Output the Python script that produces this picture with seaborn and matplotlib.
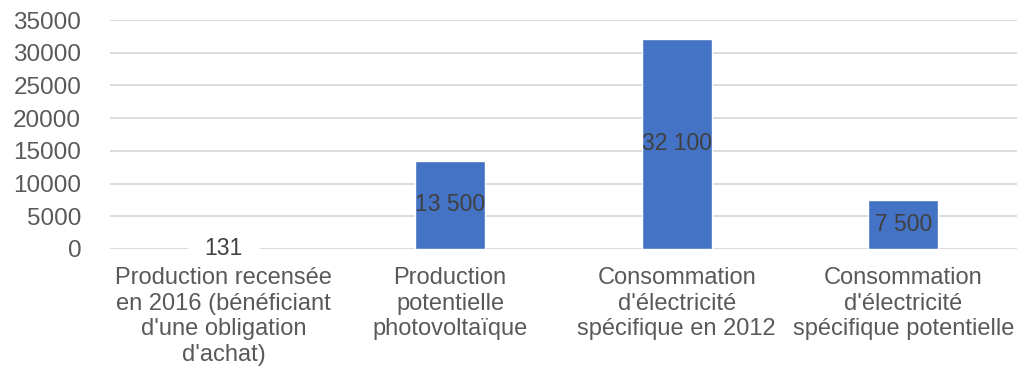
import matplotlib
matplotlib.use("Agg")
import matplotlib.pyplot as plt
import seaborn as sns
import pandas as pd

categories = [
    "Production recensée\nen 2016 (bénéficiant\nd'une obligation\nd'achat)",
    "Production\npotentielle\nphotovoltaïque",
    "Consommation\nd'électricité\nspécifique en 2012",
    "Consommation\nd'électricité\nspécifique potentielle",
]
values = [131, 13500, 32100, 7500]
y_ticks = [0, 5000, 10000, 15000, 20000, 25000, 30000, 35000]

sns.set_theme(style="white")
plt.rcParams["font.family"] = ["Liberation Sans", "DejaVu Sans"]

text_color = "#595959"
bar_color = "#4472C4"
grid_color = "#D9D9D9"

df = pd.DataFrame({"categorie": categories, "valeur": values})

fig = plt.figure(figsize=(10.31, 3.71), dpi=100)
ax = fig.add_axes([0.107, 0.329, 0.879, 0.617])

sns.barplot(data=df, x="categorie", y="valeur", color=bar_color,
            saturation=1, width=0.31, ax=ax, zorder=3)

ax.set_ylim(0, 35000)
ax.set_xlim(-0.5, 3.5)
ax.set_yticks(y_ticks)
ax.set_yticklabels([str(t) for t in y_ticks])
ax.yaxis.grid(True, color=grid_color, linewidth=1.3, zorder=0)
ax.set_axisbelow(True)
for s in ax.spines.values():
    s.set_visible(False)

ax.set_xlabel("")
ax.set_ylabel("")
ax.tick_params(axis="y", length=0, pad=21, labelsize=17.5, labelcolor=text_color)
ax.tick_params(axis="x", length=0, pad=13, labelsize=17, labelcolor=text_color)
for lbl in ax.get_xticklabels():
    lbl.set_linespacing(1.22)

for i, v in enumerate(values):
    ax.text(i, v / 2, f"{v:,}".replace(",", " "), ha="center", va="center",
            fontsize=16.5, color="#404040", zorder=5)

fig.savefig("out.png", dpi=100)
